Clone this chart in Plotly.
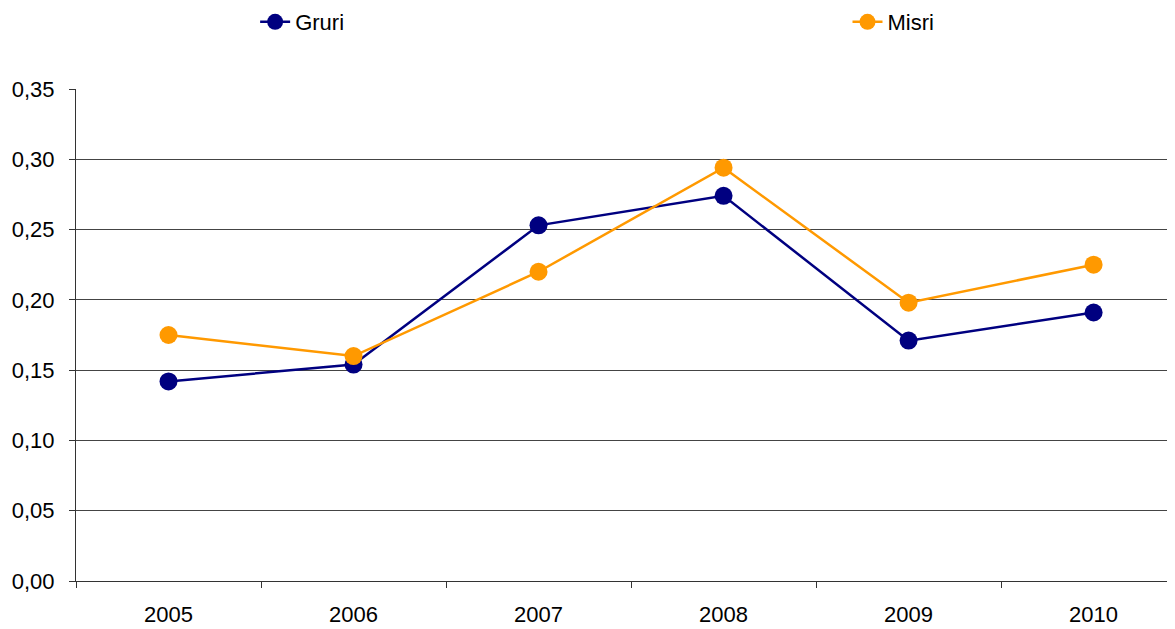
import plotly.graph_objects as go

years = ["2005", "2006", "2007", "2008", "2009", "2010"]
gruri = [0.142, 0.154, 0.253, 0.274, 0.171, 0.191]
misri = [0.175, 0.160, 0.220, 0.294, 0.198, 0.225]
y_ticks = [0.00, 0.05, 0.10, 0.15, 0.20, 0.25, 0.30, 0.35]

xpos = list(range(len(years)))

fig = go.Figure()
fig.add_trace(go.Scatter(x=xpos, y=gruri, name="Gruri", mode="lines+markers",
                         line=dict(color="#000080", width=2.5),
                         marker=dict(size=18, color="#000080"), legend="legend"))
fig.add_trace(go.Scatter(x=xpos, y=misri, name="Misri", mode="lines+markers",
                         line=dict(color="#FF9900", width=2.5),
                         marker=dict(size=18, color="#FF9900"), legend="legend2"))

H = 621
legend_common = dict(yref="container", y=1 - 14 / H, yanchor="middle",
                     xanchor="left", font=dict(size=22), bgcolor="rgba(0,0,0,0)",
                     borderwidth=0)

fig.update_layout(
    width=1167, height=H,
    margin=dict(l=68, r=0, t=81, b=48),
    plot_bgcolor="white", paper_bgcolor="white",
    separators=", ",
    font=dict(family="Liberation Sans, Arial, sans-serif", size=22, color="black"),
    showlegend=True,
    legend=dict(x=0.163, **legend_common),
    legend2=dict(x=0.702, **legend_common),
    xaxis=dict(range=[-0.5, 5.44], tickmode="array", tickvals=xpos, ticktext=years,
               ticks="", ticklabelstandoff=14, showgrid=False, showline=True,
               linecolor="#333", linewidth=1, zeroline=False, automargin=False,
               minor=dict(tickmode="array", tickvals=[-0.5, 0.5, 1.5, 2.5, 3.5, 4.5, 5.5],
                          ticks="outside", ticklen=6, tickcolor="#333", showgrid=False)),
    yaxis=dict(range=[0, 0.35], tickmode="array", tickvals=y_ticks, tickformat=".2f",
               ticks="outside", ticklen=6, tickcolor="#333", ticklabelstandoff=10,
               showgrid=True, gridcolor="#444", gridwidth=1, automargin=False,
               showline=True, linecolor="#333", linewidth=1, zeroline=False),
)

fig.write_html("out.html")
